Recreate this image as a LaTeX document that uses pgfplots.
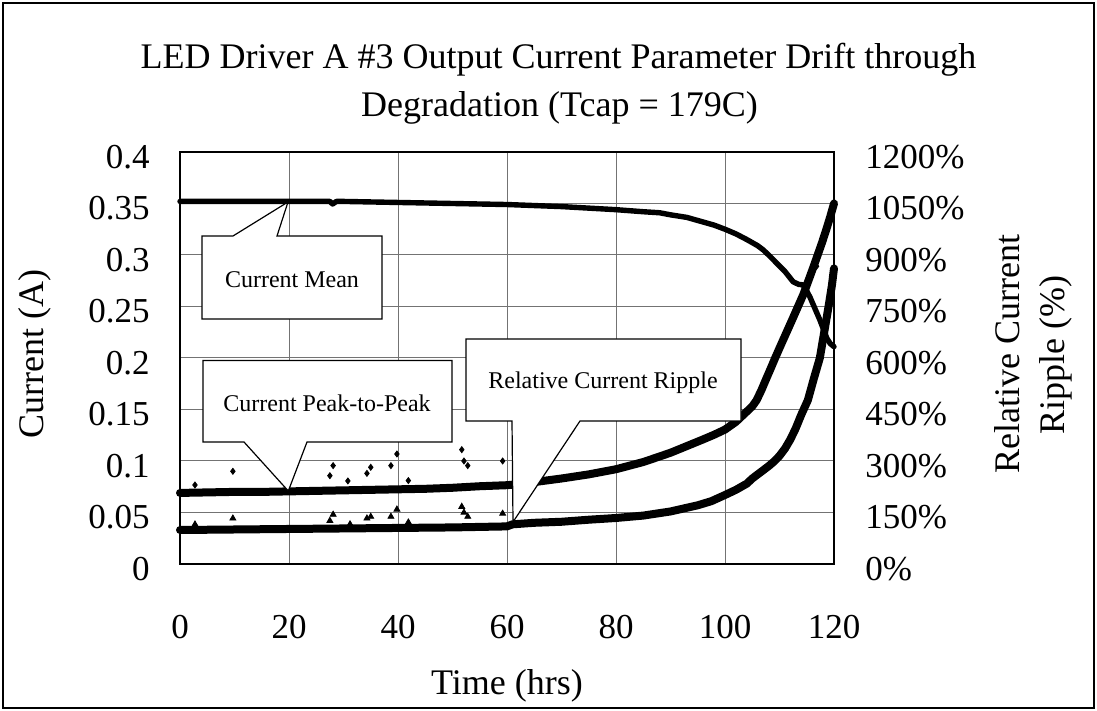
\documentclass[border=0pt]{standalone}
\usepackage{pgfplots}
\pgfplotsset{compat=1.18}
\usepackage{fontspec}
\setmainfont{Liberation Serif}
\begin{document}
\begin{tikzpicture}
\path[use as bounding box] (0,0) rectangle (548.5pt,355.5pt);
\fill[white] (0,0) rectangle (548.5pt,355.5pt);
\begin{axis}[
  at={(90pt,73.5pt)}, anchor=south west,
  scale only axis, width=327pt, height=206pt,
  xmin=0, xmax=120, ymin=0, ymax=0.4,
  xtick={0,20,40,60,80,100,120},
  xticklabels={0,20,40,60,80,100,120},
  ytick={0,0.05,0.1,0.15,0.2,0.25,0.3,0.35,0.4},
  yticklabels={0,0.05,0.1,0.15,0.2,0.25,0.3,0.35,0.4},
  tick pos=left, ticklabel pos=left,
  grid=major, major grid style={black!55, line width=0.5pt},
  major tick length=0pt,
  axis line style={line width=0.8pt},
  tick label style={font=\fontsize{17.5}{18}\selectfont},
  xticklabel style={anchor=center, inner sep=0pt, yshift=-31.5pt},
  yticklabel style={anchor=east, inner sep=0pt, xshift=-15pt, yshift=-2.5pt},
  /pgf/number format/assume math mode=true,
  clip=false,
]
% Current Mean
\addplot[black, line width=2.7pt, line join=round, line cap=round] coordinates {
(0,0.352) (10,0.352) (20,0.352) (27.5,0.352) (28,0.3495) (28.7,0.352) (30,0.352)
(40,0.351) (50,0.350) (55,0.3495) (60,0.349) (65,0.348) (70,0.347) (75,0.3455)
(80,0.344) (85,0.342) (88,0.341) (90,0.339) (93,0.3365) (96,0.332) (98,0.329)
(100,0.325) (102,0.3205) (104,0.315) (106,0.309) (107,0.305) (108,0.300)
(109.5,0.292) (111,0.284) (112.5,0.274) (113.5,0.2715) (114.3,0.271) (115,0.265)
(115.6,0.259) (116.5,0.248) (117.4,0.237) (118.2,0.226) (118.7,0.219)
(119.3,0.214) (120,0.211)};
% Current Peak-to-Peak
\addplot[black, line width=4pt, line join=round, line cap=round] coordinates {
(0,0.069) (5,0.0695) (10,0.070) (15,0.070) (20,0.0705) (25,0.071) (30,0.0715)
(35,0.072) (40,0.0725) (45,0.073) (50,0.074) (55,0.0755) (60,0.0765) (61,0.077)
(65.7,0.080) (70,0.083) (75,0.087) (80,0.092) (85,0.099) (90,0.108) (93,0.1145)
(96,0.121) (98,0.1255) (100,0.1305) (102,0.138) (104,0.148) (105,0.153)
(105.8,0.159) (106.7,0.169) (107.5,0.179) (108.4,0.19) (109.2,0.2) (110.2,0.212)
(111.3,0.225) (112.4,0.238) (113.4,0.25) (114.4,0.262) (115.3,0.275) (116.2,0.288)
(117,0.30) (117.8,0.312) (118.6,0.325) (119.3,0.337) (120,0.35)};
\addplot[only marks, mark=diamond*, mark size=1.5pt, black] coordinates {
(2.75,0.0767) (9.7,0.090) (27.5,0.0857) (28.1,0.0955) (30.8,0.0806) (34.3,0.088)
(35.0,0.0939) (38.7,0.0955) (39.8,0.1068) (41.9,0.081) (51.7,0.111) (52.1,0.100)
(52.8,0.0955) (59.2,0.100) (116.8,0.289)};
\end{axis}
\begin{axis}[
  at={(90pt,73.5pt)}, anchor=south west,
  scale only axis, width=327pt, height=206pt,
  xmin=0, xmax=120, ymin=0, ymax=1200,
  axis x line=none, axis y line*=right,
  ytick={0,150,300,450,600,750,900,1050,1200},
  yticklabels={0\%,150\%,300\%,450\%,600\%,750\%,900\%,1050\%,1200\%},
  major tick length=0pt,
  axis line style={line width=0.8pt},
  tick label style={font=\fontsize{17.5}{18}\selectfont},
  yticklabel style={anchor=west, inner sep=0pt, xshift=15.5pt, yshift=-2.5pt},
  /pgf/number format/assume math mode=true,
  clip=false,
]
% Relative Current Ripple
\addplot[black, line width=4pt, line join=round, line cap=round] coordinates {
(0,99) (10,100.5) (20,102) (30,103.5) (40,105) (50,106.5) (60,109.5) (61,115.5)
(65,120) (70,123) (75,129) (80,134) (85,141) (90,153) (95,171) (97.5,183)
(100,201) (102,216) (104,234) (105,249) (106,261) (107,273) (108,285)
(109,298.5) (110,315) (111,336) (112,363) (113,396) (114,435) (115.2,477)
(116.3,540) (117.4,600) (118.2,675) (119,750) (119.6,810) (120,861)};
\addplot[only marks, mark=triangle*, mark size=1.7pt, black] coordinates {
(2.75,115.5) (9.7,133) (27.5,126) (28.1,144) (31.2,116) (34.3,133) (35.0,138)
(38.7,138) (39.8,159) (41.9,121.5) (51.7,167) (52.1,150) (52.8,138) (59.2,147)};
\end{axis}
\begin{scope}[shift={(0,355.5pt)}, x=0.5pt, y=-0.5pt]
\draw[line width=0.6pt] (3,3) rectangle (1094,708);
\node[font=\fontsize{18}{18}\selectfont, anchor=base] at (558.5,69) {LED Driver A \#3 Output Current Parameter Drift through};
\node[font=\fontsize{18}{18}\selectfont, anchor=base] at (559.5,117) {Degradation (Tcap = 179C)};
\node[font=\fontsize{18}{18}\selectfont, anchor=base] at (507,695) {Time (hrs)};
\node[font=\fontsize{18}{18}\selectfont, rotate=90] at (35,354) {Current (A)};
\node[font=\fontsize{18}{18}\selectfont, rotate=90] at (1007,354) {Relative Current};
\node[font=\fontsize{18}{18}\selectfont, rotate=90] at (1056,355) {Ripple (\%)};
\filldraw[fill=white, draw=black, line width=0.6pt]
  (202,236) -- (233,236) -- (288,202) -- (277,236) -- (382,236) -- (382,319) -- (202,319) -- cycle;
\node[font=\fontsize{12}{12}\selectfont] at (292,280) {Current Mean};
\filldraw[fill=white, draw=black, line width=0.6pt]
  (203,360.5) -- (452,360.5) -- (452,442) -- (307,442) -- (288.3,491) -- (244,442) -- (203,442) -- cycle;
\node[font=\fontsize{12}{12}\selectfont] at (327,403) {Current Peak-to-Peak};
\filldraw[fill=white, draw=black, line width=0.6pt]
  (466,339) -- (741,339) -- (741,421) -- (580,421) -- (513,522) -- (512,421) -- (466,421) -- cycle;
\node[font=\fontsize{12}{12}\selectfont] at (603,383) {Relative Current Ripple};
\end{scope}
\end{tikzpicture}
\end{document}
